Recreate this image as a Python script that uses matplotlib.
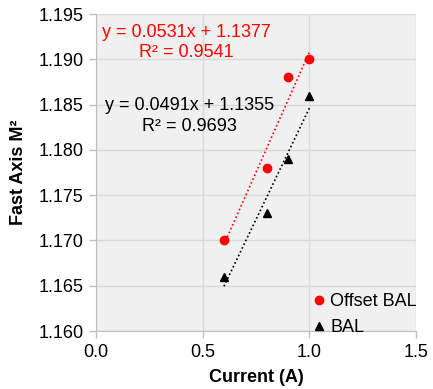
import numpy as np
import matplotlib.pyplot as plt

plt.rcParams["font.family"] = ["Liberation Sans", "DejaVu Sans"]

# ---- data ----
current = [0.6, 0.8, 0.9, 1.0]
offset_bal = [1.170, 1.178, 1.188, 1.190]
bal = [1.166, 1.173, 1.179, 1.186]
x_ticks = [0.0, 0.5, 1.0, 1.5]
y_ticks = [1.160, 1.165, 1.170, 1.175, 1.180, 1.185, 1.190, 1.195]

fig = plt.figure(figsize=(4.33, 3.89), dpi=100)
ax = fig.add_axes([0.2217, 0.149, 0.739, 0.815])
ax.set_facecolor("#f0f0f0")

# trendlines
xs = np.array([min(current), max(current)])
for y, col in [(offset_bal, "red"), (bal, "black")]:
    k, b = np.polyfit(current, y, 1)
    ax.plot(xs, k * xs + b, ls=(0, (1, 1.5)), color=col, lw=1.2, zorder=2)

ax.plot(current, offset_bal, "o", color="red", ms=6, label="Offset BAL", zorder=3)
ax.plot(current, bal, "^", color="black", ms=6, label="BAL", zorder=3)

ax.set_xlim(0, 1.5)
ax.set_ylim(1.160, 1.195)
ax.set_xticks(x_ticks)
ax.set_yticks(y_ticks)
ax.set_xticklabels([f"{v:.1f}" for v in x_ticks])
ax.set_yticklabels([f"{v:.3f}" for v in y_ticks])
ax.tick_params(labelsize=13, color="#bfbfbf", length=5, width=1, pad=4)
ax.grid(color="#d9d9d9", lw=1)
ax.set_axisbelow(True)
for s in ["top", "right"]:
    ax.spines[s].set_visible(False)
for s in ["left", "bottom"]:
    ax.spines[s].set_color("#bfbfbf")

ax.set_xlabel("Current (A)", fontsize=13, fontweight="bold", labelpad=6)
ax.set_ylabel("Fast Axis M²", fontsize=13, fontweight="bold", labelpad=8)

ax.text(0.422, 1.1930, "y = 0.0531x + 1.1377", color="red", fontsize=13,
        ha="center", va="center")
ax.text(0.422, 1.1908, "R² = 0.9541", color="red", fontsize=13,
        ha="center", va="center")
ax.text(0.44, 1.18495, "y = 0.0491x + 1.1355", color="black", fontsize=13,
        ha="center", va="center")
ax.text(0.44, 1.1826, "R² = 0.9693", color="black", fontsize=13,
        ha="center", va="center")

ax.legend(loc="lower right", frameon=False, fontsize=13, handlelength=0.6,
          handletextpad=0.3, labelspacing=0.5, borderaxespad=0.0,
          bbox_to_anchor=(1.025, -0.04))

fig.savefig("out.png", dpi=100)
